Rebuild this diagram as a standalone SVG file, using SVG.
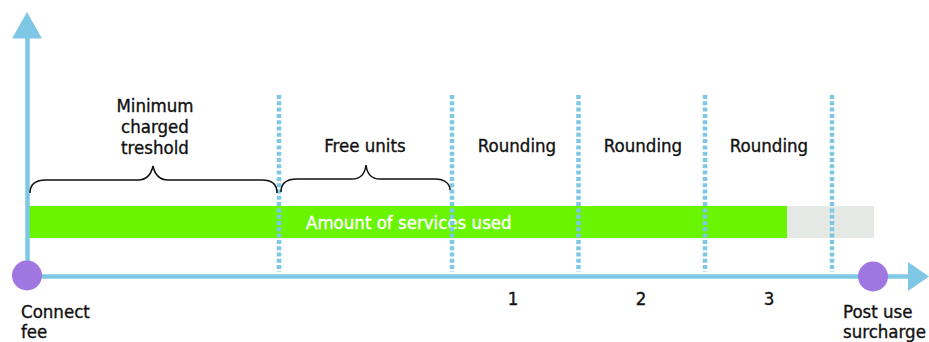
<svg xmlns="http://www.w3.org/2000/svg" width="929" height="342" viewBox="0 0 929 342">
<style>
text{font-family:"DejaVu Sans Condensed","DejaVu Sans","Liberation Sans",sans-serif;font-stretch:condensed;font-size:18.5px;fill:#111;stroke:#111;stroke-width:0.35}
.c{text-anchor:middle}
.w{fill:#fff;stroke:#fff}
.axis{stroke:#7ec8e6;stroke-width:4.5;fill:none}
.div{stroke:#7ec8e6;stroke-width:4.5;stroke-dasharray:4 2.3;fill:none}
.brace{stroke:#111;stroke-width:1.5;fill:none}
.dot{fill:#a077e0}
</style>
<rect width="929" height="342" fill="#fff"/>
<g id="bars">
<rect x="29" y="206" width="758" height="32" fill="#69f500"/>
<rect x="787" y="206" width="87" height="32" fill="#e4e9e6"/>
<text class="w" x="306" y="229">Amount of services used</text>
</g>
<g id="connectors">
<line class="div" x1="279" y1="95" x2="279" y2="272"/>
<line class="div" x1="452" y1="95" x2="452" y2="272"/>
<line class="div" x1="578.5" y1="95" x2="578.5" y2="272"/>
<line class="div" x1="705" y1="95" x2="705" y2="272"/>
<line class="div" x1="832" y1="95" x2="832" y2="272"/>
<line class="axis" x1="27.5" y1="276.5" x2="27.5" y2="36"/>
<polygon points="27,12 12,38.5 42,38.5" fill="#7ec8e6"/>
<line class="axis" x1="27.5" y1="276.5" x2="910" y2="276.5"/>
<polygon points="929,276.5 908,262 908,291" fill="#7ec8e6"/>
<path class="brace" d="M30,193 C30,185 34,180 46,180 L138,180 C147,180 151,175 153,166 C155,175 159,180 168,180 L262,180 C272,180 277,185 277,193"/>
<path class="brace" d="M281,192 C281,184 286,179 297,179 L352,179 C361,179 365,174 366,165 C367,174 371,179 380,179 L435,179 C445,179 450,184 450,190"/>
</g>
<g id="connect-fee">
<circle class="dot" cx="27" cy="275.5" r="15"/>
<text x="21" y="318">Connect</text>
<text x="21" y="338">fee</text>
</g>
<g id="post-use">
<circle class="dot" cx="873" cy="276.5" r="15"/>
<text x="843" y="318">Post use</text>
<text x="843" y="338">surcharge</text>
</g>
<g id="minimum">
<text class="c" x="155" y="112">Minimum</text>
<text class="c" x="155" y="133">charged</text>
<text class="c" x="155" y="154">treshold</text>
</g>
<g id="free-units"><text class="c" x="365" y="152">Free units</text></g>
<g id="rounding1"><text class="c" x="517" y="152">Rounding</text><text class="c" x="513" y="305">1</text></g>
<g id="rounding2"><text class="c" x="643" y="152">Rounding</text><text class="c" x="641" y="305">2</text></g>
<g id="rounding3"><text class="c" x="769" y="152">Rounding</text><text class="c" x="769" y="305">3</text></g>
</svg>
